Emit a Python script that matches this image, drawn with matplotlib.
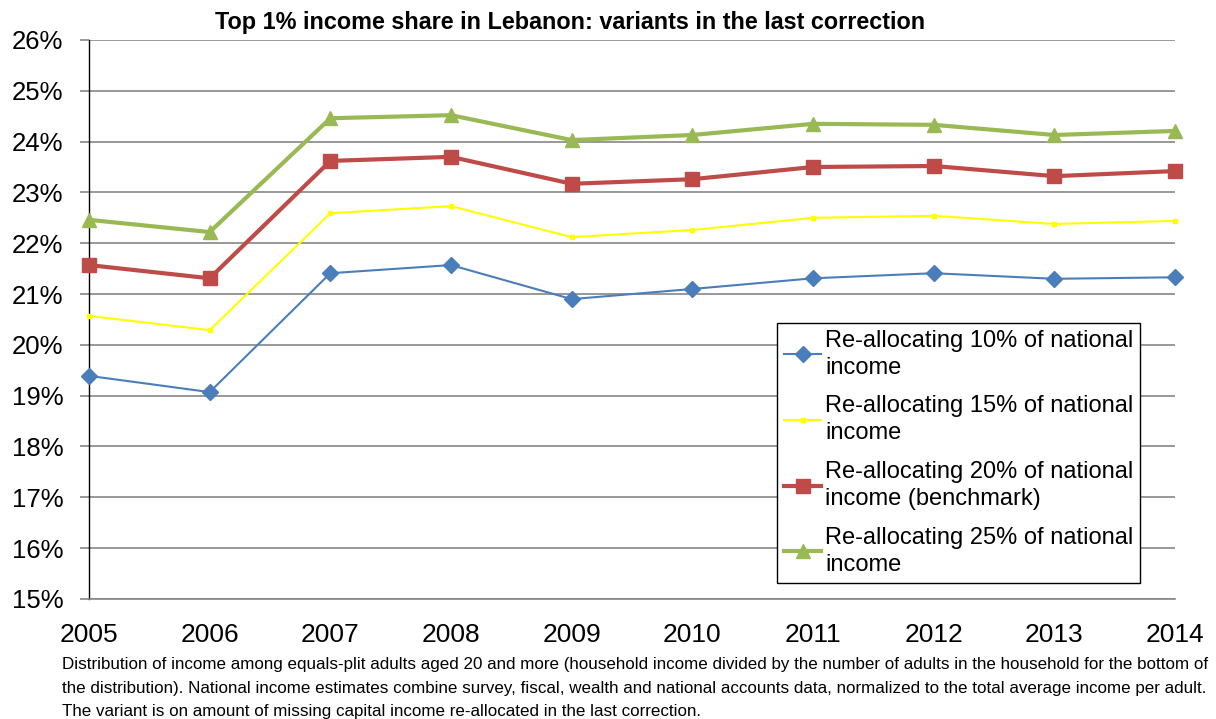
import matplotlib
matplotlib.use("Agg")
import matplotlib.pyplot as plt
from matplotlib.ticker import FuncFormatter, MultipleLocator

years = [2005, 2006, 2007, 2008, 2009, 2010, 2011, 2012, 2013, 2014]
realloc_10 = [19.39, 19.07, 21.41, 21.57, 20.90, 21.10, 21.31, 21.41, 21.30, 21.33]
realloc_15 = [20.57, 20.29, 22.59, 22.73, 22.12, 22.26, 22.50, 22.54, 22.38, 22.44]
realloc_20 = [21.57, 21.31, 23.62, 23.70, 23.17, 23.26, 23.50, 23.52, 23.32, 23.42]
realloc_25 = [22.46, 22.22, 24.46, 24.52, 24.03, 24.13, 24.35, 24.33, 24.13, 24.21]

labels = ["Re-allocating 10% of national\nincome",
          "Re-allocating 15% of national\nincome",
          "Re-allocating 20% of national\nincome (benchmark)",
          "Re-allocating 25% of national\nincome"]
title = "Top 1% income share in Lebanon: variants in the last correction"
note = ("Distribution of income among equals-plit adults aged 20 and more (household income divided by the number of adults in the household for the bottom of\n"
        "the distribution). National income estimates combine survey, fiscal, wealth and national accounts data, normalized to the total average income per adult.\n"
        "The variant is on amount of missing capital income re-allocated in the last correction.")

plt.rcParams['font.family'] = ['Liberation Sans', 'DejaVu Sans']

fig = plt.figure(figsize=(12.16, 7.19), dpi=100)
ax = fig.add_axes([0.0732, 0.1670, 0.8931, 0.7774])

ax.plot(years, realloc_10, color="#4a7ebb", lw=1.5, marker="D", ms=8, label=labels[0], zorder=3, clip_on=False)
ax.plot(years, realloc_15, color="#ffff00", lw=1.5, marker="s", ms=3.5, label=labels[1], zorder=3, clip_on=False)
ax.plot(years, realloc_20, color="#be4b48", lw=3, marker="s", ms=10, label=labels[2], zorder=3, clip_on=False)
ax.plot(years, realloc_25, color="#98b954", lw=3, marker="^", ms=10, label=labels[3], zorder=3, clip_on=False)

ax.set_xlim(2005, 2014)
ax.set_ylim(15, 26)
ax.yaxis.set_major_locator(MultipleLocator(1))
ax.yaxis.set_major_formatter(FuncFormatter(lambda v, p: f"{v:.0f}%"))
ax.set_xticks(years)
ax.set_xticklabels([str(y) for y in years])
ax.set_xticks([2005, 2010], minor=True)
ax.grid(axis="y", color="#868686", lw=1.2)
ax.set_axisbelow(True)
for s in ["top", "right"]:
    ax.spines[s].set_visible(False)
ax.spines["left"].set_color("#000000")
ax.spines["left"].set_linewidth(1.0)
ax.spines["bottom"].set_color("#868686")
ax.spines["bottom"].set_linewidth(1.2)
ax.tick_params(axis="y", labelsize=18.5, length=6.5, color="#868686", width=1.2, pad=12)
ax.tick_params(axis="x", which="major", labelsize=19, length=0, pad=17)
ax.tick_params(axis="x", which="minor", length=6, color="#868686", width=1.2)

ax.set_title(title, fontsize=16.8, fontweight="bold", pad=8, x=0.443)

leg = ax.legend(loc="lower right", bbox_to_anchor=(0.968, 0.029), borderaxespad=0,
                fontsize=17, frameon=True, fancybox=False, edgecolor="#000000",
                framealpha=1, handlelength=1.6, handletextpad=0.15,
                labelspacing=0.7, borderpad=0.3)
for t in leg.get_texts():
    t.set_linespacing(1.3)
leg.get_frame().set_linewidth(1.0)

fig.text(0.051, 0.0, note, fontsize=12.25, va="bottom", ha="left", linespacing=1.7)

fig.savefig("out.png", dpi=100)
